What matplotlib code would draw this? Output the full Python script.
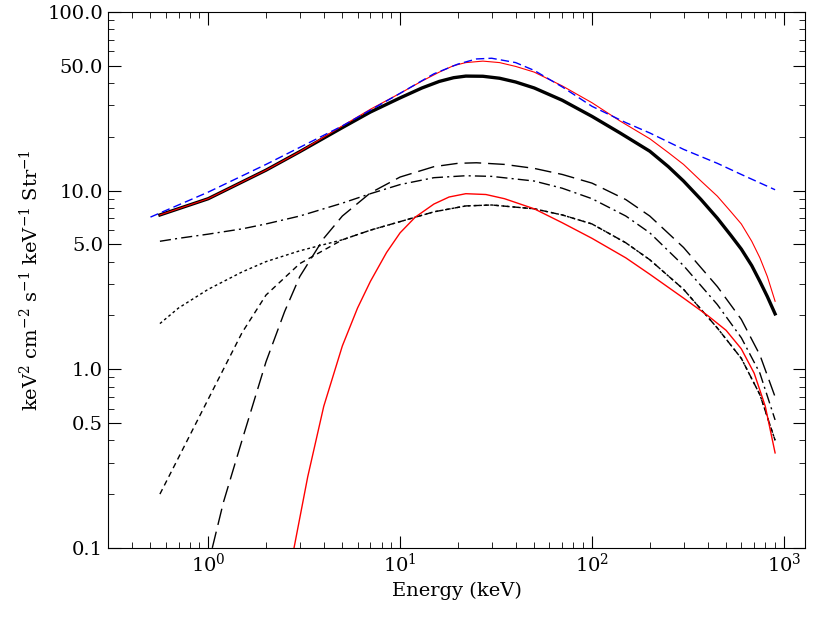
import numpy as np
import matplotlib
matplotlib.use("Agg")
import matplotlib.pyplot as plt
from matplotlib.ticker import FixedLocator, FixedFormatter, LogLocator, NullFormatter

plt.rcParams['font.family'] = 'DejaVu Serif'
plt.rcParams['mathtext.fontset'] = 'dejavuserif'

E_tot = [0.56, 1, 2, 3, 5, 7, 10, 13, 16, 19, 22, 27, 33, 40, 50, 70, 100, 140, 200, 250, 300, 370, 450, 530, 600, 680, 750, 820, 900]
tot_black = [7.3, 9.0, 13.0, 16.5, 22.5, 27.5, 33, 37.5, 40.8, 42.8, 43.7, 43.6, 42.5, 40.5, 37.5, 32, 26, 21, 16.6, 13.6, 11.3, 8.9, 7.0, 5.6, 4.7, 3.8, 3.1, 2.55, 2.04]
tot_red = [7.3, 9.0, 13.0, 16.5, 23, 28.5, 35, 41, 46, 50, 52, 53, 52, 49.5, 46, 38.5, 31, 24.5, 19.5, 16.3, 14, 11.3, 9.3, 7.6, 6.5, 5.2, 4.2, 3.3, 2.4]

E_blue = [0.5, 1, 2, 5, 10, 15, 20, 25, 30, 40, 50, 70, 100, 150, 200, 300, 450, 600, 900]
blue = [7.1, 9.8, 14, 23, 35, 45, 51, 54.5, 55, 52, 47, 38, 29.6, 24, 21, 17, 14.2, 12.3, 10.1]

E_long = [1.05, 1.2, 1.5, 2, 2.5, 3, 4, 5, 7, 10, 15, 20, 25, 35, 50, 70, 100, 150, 200, 300, 450, 600, 750, 900]
long_dash = [0.1, 0.18, 0.4, 1.1, 2.1, 3.3, 5.4, 7.2, 9.7, 11.9, 13.6, 14.2, 14.3, 14.0, 13.3, 12.3, 11, 8.9, 7.2, 4.8, 2.9, 1.9, 1.2, 0.7]

E_c = [0.56, 0.7, 1, 1.5, 2, 3, 5, 7, 10, 15, 22, 30, 50, 70, 100, 150, 200, 300, 450, 600, 750, 900]
short_dash = [0.2, 0.32, 0.68, 1.6, 2.6, 3.9, 5.3, 6.0, 6.7, 7.6, 8.2, 8.3, 7.9, 7.3, 6.5, 5.1, 4.1, 2.8, 1.7, 1.15, 0.72, 0.4]
dotted = [1.8, 2.2, 2.8, 3.5, 4.0, 4.6, 5.3, 6.0, 6.7, 7.6, 8.2, 8.3, 7.9, 7.3, 6.5, 5.1, 4.1, 2.8, 1.7, 1.15, 0.72, 0.4]
dash_dot = [5.2, 5.4, 5.7, 6.1, 6.5, 7.2, 8.5, 9.6, 10.8, 11.8, 12.1, 12.0, 11.3, 10.3, 9, 7.2, 5.8, 3.8, 2.3, 1.5, 0.95, 0.52]

E_red = [2.8, 3.3, 4, 5, 6, 7, 8.5, 10, 12, 15, 18, 22, 28, 35, 50, 70, 100, 150, 200, 300, 400, 500, 600, 700, 800, 900]
red_low = [0.1, 0.25, 0.62, 1.35, 2.2, 3.1, 4.5, 5.8, 7.1, 8.4, 9.2, 9.6, 9.5, 9.0, 7.9, 6.6, 5.4, 4.2, 3.4, 2.5, 2.0, 1.65, 1.3, 0.95, 0.62, 0.34]

fig = plt.figure(figsize=(8.3, 6.24), dpi=100)
ax = fig.add_axes([0.130, 0.122, 0.840, 0.859])

ax.plot(E_tot, tot_black, color='black', lw=2.4)
ax.plot(E_tot, tot_red, color='red', lw=0.8)
ax.plot(E_blue, blue, color='blue', lw=1.0, ls=(0, (6, 3)))
ax.plot(E_long, long_dash, color='black', lw=1.0, ls=(0, (12, 5)))
ax.plot(E_c, short_dash, color='black', lw=1.0, ls=(0, (4, 3)))
ax.plot(E_c, dotted, color='black', lw=1.0, ls=(0, (2, 2)))
ax.plot(E_c, dash_dot, color='black', lw=1.0, ls=(0, (8, 3, 1.5, 3)))
ax.plot(E_red, red_low, color='red', lw=1.0)

ax.set_xscale('log'); ax.set_yscale('log')
ax.set_xlim(0.3, 1290); ax.set_ylim(0.1, 100)
yt = [0.1, 0.5, 1.0, 5.0, 10.0, 50.0, 100.0]
ax.yaxis.set_major_locator(FixedLocator(yt))
ax.yaxis.set_major_formatter(FixedFormatter(['0.1', '0.5', '1.0', '5.0', '10.0', '50.0', '100.0']))
ax.yaxis.set_minor_locator(LogLocator(subs=np.arange(2, 10)))
ax.yaxis.set_minor_formatter(NullFormatter())
ax.xaxis.set_minor_locator(LogLocator(subs=np.arange(2, 10)))
ax.tick_params(which='both', direction='in', top=True, right=True, labelsize=14)
ax.tick_params(which='major', length=9)
ax.tick_params(which='minor', length=4)
ax.set_xlabel('Energy (keV)', fontsize=14)
ax.set_ylabel(r'keV$^2$ cm$^{-2}$ s$^{-1}$ keV$^{-1}$ Str$^{-1}$', fontsize=14)
fig.savefig('out.png', dpi=100)
